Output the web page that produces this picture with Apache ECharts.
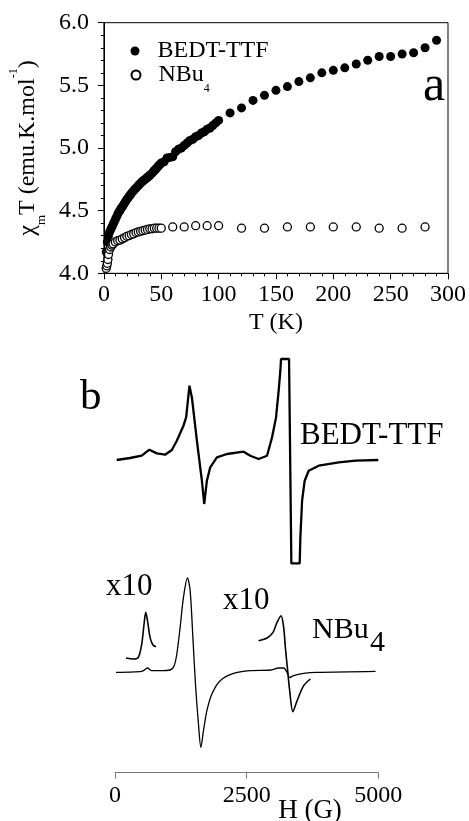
<!DOCTYPE html>
<html>
<head>
<meta charset="utf-8">
<script src="https://cdn.jsdelivr.net/npm/echarts@6/dist/echarts.min.js"></script>
<style>
    html, body { margin: 0; padding: 0; background: #fff; }
    #myChart { width: 469px; height: 821px; }
</style>
</head>
<body>
<div id="myChart"></div>
<script>
// panel a: chi_m T vs T
const tempBedt = [2, 3, 4, 5, 6, 7, 8, 9, 10, 11, 12, 13, 14, 15, 16, 17, 18, 19, 20,
    21, 22, 23, 24, 25, 26, 27, 28, 29, 30, 31, 32, 33, 34, 35, 36, 37, 38, 39, 40,
    41, 42, 43, 44, 45, 46, 47, 48, 49, 50, 52.5, 55, 57.5, 60, 62.5, 65, 67.5, 70,
    72.5, 75, 77.5, 80, 82.5, 85, 87.5, 90, 92.5, 95, 97.5, 100, 110, 120, 130, 140,
    150, 160, 170, 180, 190, 200, 210, 220, 230, 240, 250, 260, 270, 280, 290];
const chiBedt = [4.17, 4.25, 4.30, 4.33, 4.35, 4.37, 4.39, 4.41, 4.43, 4.45, 4.47, 4.49, 4.50, 4.52, 4.53, 4.545, 4.56, 4.575, 4.59,
    4.60, 4.615, 4.625, 4.64, 4.65, 4.66, 4.67, 4.68, 4.69, 4.70, 4.71, 4.72, 4.73, 4.735, 4.745, 4.75, 4.76, 4.765, 4.775, 4.78,
    4.79, 4.80, 4.81, 4.82, 4.83, 4.84, 4.85, 4.86, 4.87, 4.88, 4.89, 4.92, 4.925, 4.93, 4.97, 4.99, 5.00, 5.02,
    5.04, 5.06, 5.07, 5.09, 5.10, 5.12, 5.13, 5.15, 5.16, 5.18, 5.20, 5.22, 5.28, 5.32, 5.38, 5.42,
    5.46, 5.49, 5.53, 5.56, 5.60, 5.62, 5.64, 5.67, 5.70, 5.73, 5.73, 5.75, 5.76, 5.80, 5.86];

const tempNbu = [2, 2.5, 3, 3.5, 4, 5, 6, 7, 8, 10, 12, 14, 16, 18, 20, 22, 24, 26, 28, 30,
    32, 34, 36, 38, 40, 42, 44, 46, 48, 50, 60, 70, 80, 90, 100, 120, 140, 160, 180, 200,
    220, 240, 260, 280];
const chiNbu = [4.04, 4.06, 4.08, 4.11, 4.15, 4.19, 4.21, 4.225, 4.235, 4.25, 4.26, 4.265, 4.275, 4.285, 4.295, 4.30, 4.31, 4.315, 4.325, 4.33,
    4.335, 4.34, 4.345, 4.35, 4.355, 4.355, 4.36, 4.36, 4.36, 4.36, 4.37, 4.37, 4.38, 4.38, 4.38, 4.36, 4.36, 4.37, 4.37, 4.37,
    4.37, 4.36, 4.36, 4.37];

// panel b: EPR spectra, field H (G) vs signal (arb. units)
const fieldBedt = [32, 285, 508, 653, 794, 952, 1079, 1174, 1300, 1351, 1414, 1460, 1555, 1650, 1694, 1745,
    1808, 1935, 2126, 2442, 2569, 2727, 2887, 2982, 3058, 3108, 3140, 3153, 3305, 3349, 3507,
    3520, 3553, 3602, 3678, 3869, 4249, 4567, 5000];
const eprBedt = [312.7, 314.7, 317, 323, 319.3, 318, 322.7, 332, 347, 355.3, 387, 375.3, 332, 292, 268.7, 292,
    305.3, 315.3, 318.7, 321, 317, 313.7, 317, 335.3, 355.3, 382, 402, 413.7, 413.7, 209.3, 209.3,
    235.3, 272, 292, 302, 307, 310.3, 312, 312.7];

const fieldNbu = [19, 95, 476, 539, 615, 698, 856, 1047, 1123, 1174, 1237, 1300, 1376, 1427, 1479, 1528,
    1585, 1631, 1680, 1745, 1840, 1998, 2251, 2569, 2950, 3108, 3203, 3267, 3317, 3393, 3583, 3838, 4948];
const eprNbu = [100.3, 100.3, 101, 102, 104.7, 102, 102, 102.7, 107, 118.7, 145.3, 175.3, 194.7, 182, 135.3, 88.7,
    48.7, 25.3, 42, 62, 78.7, 92, 99.3, 102, 102.7, 104.7, 104.7, 100.3, 95.3, 97, 99.3, 100.3, 101.3];

const fieldNbuX10a = [209, 348, 443, 508, 552, 584, 622, 666, 717, 780];
const eprNbuX10a = [114.7, 113.7, 115.3, 128.7, 148.7, 160.3, 150.3, 135.3, 128, 126];

const fieldNbuX10b = [2727, 2887, 3001, 3077, 3153, 3203, 3235, 3279, 3317, 3378, 3458, 3583, 3711];
const eprNbuX10b = [132, 134.7, 140.3, 150.3, 157, 145.3, 125.3, 102, 82, 61, 72, 87, 93.7];

const serif = '"Liberation Serif", "DejaVu Serif", serif';

function pairs(xs, ys) {
    return xs.map((x, i) => [x, ys[i]]);
}

function spectrum(name, xs, ys, width, smooth) {
    return {
        name: name, type: 'line', xAxisIndex: 1, yAxisIndex: 1,
        data: pairs(xs, ys),
        showSymbol: false, symbol: 'none',
        smooth: smooth,
        lineStyle: { color: '#000', width: width }
    };
}

const myChart = echarts.init(document.getElementById('myChart'));
myChart.setOption({
    animation: false,
    backgroundColor: '#fff',
    textStyle: { fontFamily: serif, color: '#000' },
    legend: [
        {
            data: ['BEDT-TTF'],
            left: 130.5, top: 38, padding: 0,
            itemWidth: 9, itemHeight: 9,
            textStyle: {
                fontFamily: serif, fontSize: 24, color: '#000', lineHeight: 26,
                padding: [0, 0, 0, 13]
            }
        },
        {
            data: ['NBu4'],
            left: 130.5, top: 63, padding: 0,
            itemWidth: 9, itemHeight: 9,
            formatter: function () { return '{n|NBu}{s|4}'; },
            textStyle: {
                padding: [0, 0, 0, 13],
                rich: {
                    n: { fontFamily: serif, fontSize: 24, color: '#000', lineHeight: 40 },
                    s: { fontFamily: serif, fontSize: 12, color: '#000', lineHeight: 12, verticalAlign: 'bottom' }
                }
            }
        }
    ],
    grid: [
        { left: 98.5, top: 22.7, width: 354.2, height: 250.6, show: true, borderColor: '#000', borderWidth: 1 },
        { left: 115, top: 352.7, width: 263.3, height: 420 }
    ],
    xAxis: [
        {
            gridIndex: 0, type: 'value', min: 0, max: 300, interval: 50,
            name: 'T (K)', nameLocation: 'middle', nameGap: 37,
            nameTextStyle: { fontFamily: serif, fontSize: 24, color: '#000' },
            axisLine: { lineStyle: { color: '#000', width: 1 } },
            axisTick: { length: 6, lineStyle: { color: '#000' } },
            minorTick: { show: true, splitNumber: 5, length: 3, lineStyle: { color: '#000' } },
            splitLine: { show: false },
            axisLabel: { fontFamily: serif, fontSize: 24, color: '#000', margin: 9 }
        },
        {
            gridIndex: 1, type: 'value', min: 0, max: 5000, interval: 2500,
            axisLine: { lineStyle: { color: '#777', width: 1 } },
            axisTick: { length: 6, lineStyle: { color: '#777' } },
            splitLine: { show: false },
            axisLabel: {
                fontFamily: serif, fontSize: 24, color: '#000', margin: 11,
                formatter: function (v) { return String(v); }
            }
        }
    ],
    yAxis: [
        {
            gridIndex: 0, type: 'value', min: 4, max: 6, interval: 0.5,
            name: '{n|χ}{s|m}{n|T (emu.K.mol}{u|-1}{n|)}',
            nameLocation: 'middle', nameRotate: 90, nameGap: 48,
            nameTextStyle: {
                rich: {
                    n: { fontFamily: serif, fontSize: 24, color: '#000', lineHeight: 40 },
                    s: { fontFamily: serif, fontSize: 13, color: '#000', lineHeight: 13, verticalAlign: 'bottom' },
                    u: { fontFamily: serif, fontSize: 12, color: '#000', lineHeight: 12, verticalAlign: 'top' }
                }
            },
            axisLine: { show: true, lineStyle: { color: '#000', width: 1 } },
            axisTick: { show: true, length: 6, lineStyle: { color: '#000' } },
            minorTick: { show: true, splitNumber: 5, length: 3, lineStyle: { color: '#000' } },
            splitLine: { show: false },
            axisLabel: {
                fontFamily: serif, fontSize: 24, color: '#000', margin: 15,
                formatter: function (v) { return v.toFixed(1); }
            }
        },
        {
            gridIndex: 1, type: 'value', min: 0, max: 420, show: false
        }
    ],
    graphic: [
        { type: 'text', x: 423, y: 87, style: { text: 'a', fontFamily: serif, fontSize: 50, fill: '#000', align: 'left', verticalAlign: 'middle' } },
        { type: 'text', x: 80, y: 398, style: { text: 'b', fontFamily: serif, fontSize: 43, fill: '#000', align: 'left', verticalAlign: 'middle' } },
        { type: 'text', x: 300, y: 436, style: { text: 'BEDT-TTF', fontFamily: serif, fontSize: 31, fill: '#000', align: 'left', verticalAlign: 'middle' } },
        { type: 'text', x: 106, y: 587, style: { text: 'x10', fontFamily: serif, fontSize: 31, fill: '#000', align: 'left', verticalAlign: 'middle' } },
        { type: 'text', x: 223, y: 601, style: { text: 'x10', fontFamily: serif, fontSize: 31, fill: '#000', align: 'left', verticalAlign: 'middle' } },
        { type: 'text', x: 312, y: 630, style: { text: 'NBu', fontFamily: serif, fontSize: 30, fill: '#000', align: 'left', verticalAlign: 'middle' } },
        { type: 'text', x: 370, y: 643, style: { text: '4', fontFamily: serif, fontSize: 30, fill: '#000', align: 'left', verticalAlign: 'middle' } },
        { type: 'text', x: 310, y: 811, style: { text: 'H (G)', fontFamily: serif, fontSize: 27, fill: '#000', align: 'center', verticalAlign: 'middle' } }
    ],
    series: [
        {
            name: 'BEDT-TTF', type: 'scatter', xAxisIndex: 0, yAxisIndex: 0,
            data: pairs(tempBedt, chiBedt),
            symbol: 'circle', symbolSize: 9,
            itemStyle: { color: '#000', opacity: 1 }
        },
        {
            name: 'NBu4', type: 'scatter', xAxisIndex: 0, yAxisIndex: 0,
            data: pairs(tempNbu, chiNbu),
            symbol: 'circle', symbolSize: 8,
            itemStyle: { color: '#fff', borderColor: '#000', borderWidth: 1.3, opacity: 1 }
        },
        spectrum('EPR BEDT-TTF', fieldBedt, eprBedt, 2.3, false),
        spectrum('EPR NBu4', fieldNbu, eprNbu, 1.3, 0.3),
        spectrum('EPR NBu4 x10 (low field)', fieldNbuX10a, eprNbuX10a, 1.6, 0.3),
        spectrum('EPR NBu4 x10 (high field)', fieldNbuX10b, eprNbuX10b, 1.6, 0.3)
    ]
});
window.onresize = function () {
    myChart.resize();
};
</script>
</body>
</html>
